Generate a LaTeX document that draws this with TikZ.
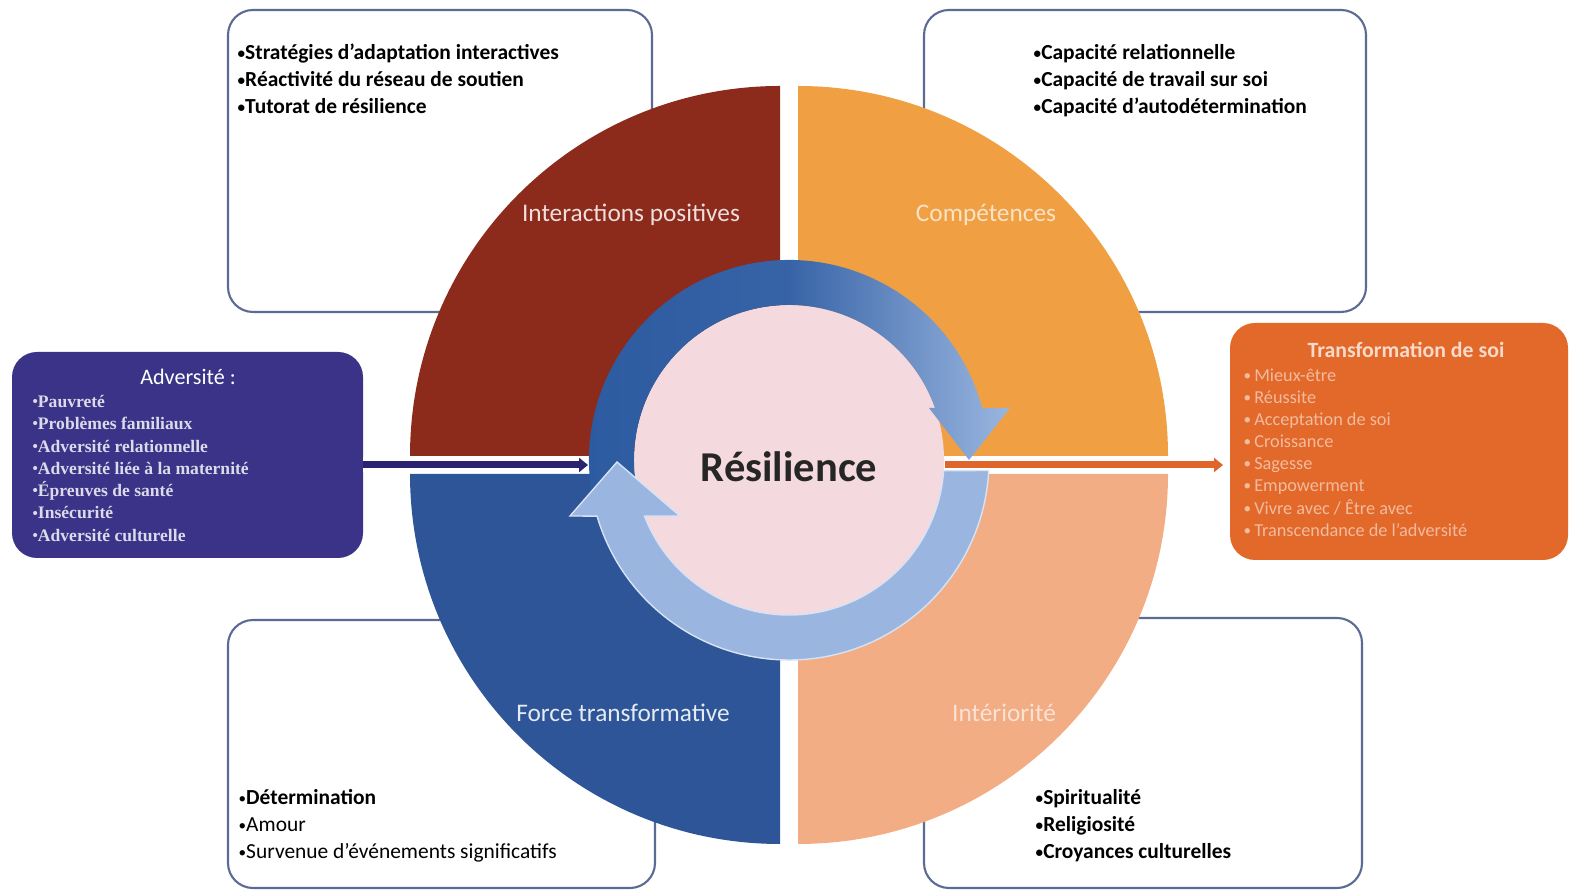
\documentclass[tikz,border=0pt]{standalone}
\usepackage{fontspec}
\setmainfont{Carlito}
\newfontfamily\advfont{Liberation Serif}
\usepackage{tikz}
\usetikzlibrary{arrows.meta}

\definecolor{quarterRed}{HTML}{8C2A1C}
\definecolor{quarterOrange}{HTML}{F0A043}
\definecolor{quarterBlue}{HTML}{2D5597}
\definecolor{quarterSalmon}{HTML}{F2AD85}
\definecolor{pinkCore}{HTML}{F4D9DE}
\definecolor{ringDark}{HTML}{2C5AA0}
\definecolor{ringLight}{HTML}{9AB6E0}
\definecolor{advBlue}{HTML}{3A3388}
\definecolor{trfOrange}{HTML}{E2692A}
\definecolor{boxLine}{HTML}{5B6B93}
\definecolor{navyLine}{HTML}{2A2470}
\definecolor{orangeLine}{HTML}{E0652B}

\newcommand\itembul{\raisebox{0.12ex}{\fontsize{4.3}{5}\selectfont•}}

\tikzset{
  listbox/.style={draw=boxLine,line width=0.6pt,fill=white,rounded corners=2.5mm,
    inner sep=0pt,outer sep=0pt},
  sidebox/.style={rounded corners=2.5mm,inner sep=0pt,outer sep=0pt},
  quarterlabel/.style={anchor=base,inner sep=0pt,font=\fontsize{7.2}{8}\selectfont},
  itemlist/.style={anchor=base west,inner sep=0pt,font=\fontsize{6.1}{7.7}\selectfont},
  advitem/.style={anchor=base west,inner sep=0pt,text=white!82!advBlue,
    font=\advfont\bfseries\fontsize{5}{6}\selectfont},
  trfitem/.style={anchor=base west,inner sep=0pt,text=white!55!trfOrange,
    font=\fontsize{5.2}{6}\selectfont},
}

\begin{document}
\begin{tikzpicture}
  \useasboundingbox (0,0) rectangle (15.71,8.90);
  \coordinate (C) at (7.89,4.30);
  \coordinate (qTL) at (7.80,4.34); \coordinate (qTR) at (7.98,4.34);
  \coordinate (qBL) at (7.80,4.16); \coordinate (qBR) at (7.98,4.16);

  \node[listbox,minimum width=4.24cm,minimum height=3.02cm] (tlbox) at (4.40,7.29) {};
  \node[listbox,minimum width=4.42cm,minimum height=3.02cm] (trbox) at (11.45,7.29) {};
  \node[listbox,minimum width=4.27cm,minimum height=2.68cm] (blbox) at (4.415,1.36) {};
  \node[listbox,minimum width=4.38cm,minimum height=2.70cm] (brbox) at (11.43,1.37) {};

  \fill[quarterRed] (qTL) -- ++(-3.70,0) arc[start angle=180,end angle=90,radius=3.70] -- cycle;
  \fill[quarterOrange] (qTR) -- ++(0,3.70) arc[start angle=90,end angle=0,radius=3.70] -- cycle;
  \fill[quarterSalmon] (qBR) -- ++(3.70,0) arc[start angle=0,end angle=-90,radius=3.70] -- cycle;
  \fill[quarterBlue] (qBL) -- ++(0,-3.70) arc[start angle=-90,end angle=-180,radius=3.70] -- cycle;

  \node[quarterlabel,text=white!85!quarterRed] (lblInter) at (6.31,6.68) {Interactions positives};
  \node[quarterlabel,text=white!70!quarterOrange] (lblComp) at (9.86,6.68) {Compétences};
  \node[quarterlabel,text=white!88!quarterBlue] (lblForce) at (6.23,1.68) {Force transformative};
  \node[quarterlabel,text=white!65!quarterSalmon] (lblInt) at (10.04,1.68) {Intériorité};

  \node[sidebox,fill=advBlue,minimum width=3.51cm,minimum height=2.06cm] (adv) at (1.875,4.35) {};
  \node[sidebox,fill=trfOrange,minimum width=3.38cm,minimum height=2.37cm] (trf) at (13.99,4.485) {};

  \coordinate (inL) at (5.88,4.25);
  \coordinate (outR) at (9.45,4.25);
  \draw[white,line width=0.15cm] (adv.east |- inL) -- (inL);
  \draw[navyLine,line width=0.07cm,-{Triangle[length=0.9mm,width=1.4mm]}] (adv.east |- inL) -- (inL);
  \draw[white,line width=0.15cm] (outR) -- (trf.west |- outR);
  \draw[orangeLine,line width=0.07cm,-{Triangle[length=0.9mm,width=1.4mm]},shorten >=0.07cm]
    (outR) -- (trf.west |- outR);

  \fill[pinkCore] (C) circle (1.55);
  \shade[shift={(C)},left color=ringDark,right color=ringLight,middle color=ringDark!90!ringLight]
    (195:2.00) arc[start angle=195,end angle=15,radius=2.00] -- (2.21,0.52) -- (1.80,0.00)
    -- (1.40,0.52) -- (19.6:1.55) arc[start angle=19.6,end angle=195,radius=1.55] -- cycle;
  \filldraw[shift={(C)},fill=ringLight,draw=white!60!ringLight,line width=0.4pt]
    (-3:2.00) arc[start angle=-3,end angle=-163.7,radius=2.00] -- (-2.19,-0.56) -- (-1.72,-0.02)
    -- (-1.09,-0.56) -- (-158.8:1.55) arc[start angle=-158.8,end angle=-4,radius=1.55] -- cycle;

  \node[anchor=base,inner sep=0pt,text=black!85,font=\bfseries\fontsize{12.1}{14}\selectfont]
    (resil) at (7.89,4.08) {Résilience};

  \foreach \txt [count=\i from 0] in {Stratégies d’adaptation interactives,
      Réactivité du réseau de soutien,Tutorat de résilience}
    \node[itemlist,font=\bfseries\fontsize{6.1}{7.7}\selectfont] (tl\i) at (2.37,8.305-0.27*\i) {\itembul\txt};
  \foreach \txt [count=\i from 0] in {Capacité relationnelle,
      Capacité de travail sur soi,Capacité d’autodétermination}
    \node[itemlist,font=\bfseries\fontsize{6.1}{7.7}\selectfont] (tr\i) at (10.33,8.305-0.27*\i) {\itembul\txt};
  \foreach \txt [count=\i from 0] in {{\bfseries Détermination},Amour,
      Survenue d’événements significatifs}
    \node[itemlist] (bl\i) at (2.38,0.855-0.27*\i) {\itembul\txt};
  \foreach \txt [count=\i from 0] in {Spiritualité,Religiosité,Croyances culturelles}
    \node[itemlist,font=\bfseries\fontsize{6.1}{7.7}\selectfont] (br\i) at (10.35,0.855-0.27*\i) {\itembul\txt};

  \node[anchor=base,inner sep=0pt,text=white,font=\fontsize{6.3}{7}\selectfont]
    (advTitle) at (1.88,5.053) {Adversité :};
  \foreach \txt [count=\i from 0] in {Pauvreté,Problèmes familiaux,Adversité relationnelle,
      Adversité liée à la maternité,Épreuves de santé,Insécurité,Adversité culturelle}
    \node[advitem] (adv\i) at (0.32,4.825-0.223*\i) {\itembul\txt};

  \node[anchor=base,inner sep=0pt,text=white!75!trfOrange,font=\bfseries\fontsize{6.2}{7}\selectfont]
    (trfTitle) at (14.06,5.324) {Transformation de soi};
  \foreach \txt [count=\i from 0] in {Mieux-être,Réussite,Acceptation de soi,Croissance,
      Sagesse,Empowerment,Vivre avec / Être avec,Transcendance de l’adversité}
    \node[trfitem] (trf\i) at (12.43,5.085-0.221*\i) {\itembul\,\txt};
\end{tikzpicture}
\end{document}
